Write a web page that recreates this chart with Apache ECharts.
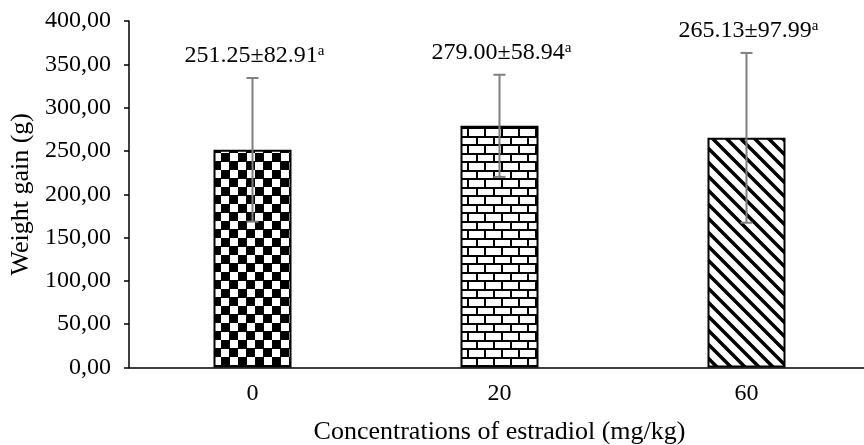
<!DOCTYPE html>
<html>
<head>
<meta charset="utf-8">
<script src="https://cdn.jsdelivr.net/npm/echarts@6/dist/echarts.min.js"></script>
<style>
  html, body { margin: 0; padding: 0; background: #fff; }
  #chart { width: 864px; height: 445px; }
</style>
</head>
<body>
<div id="chart"></div>
<script>
( () => {
    const categories = [ '0', '20', '60' ];
    const means = [ 251.25, 279.00, 265.13 ];
    const sds = [ 82.91, 58.94, 97.99 ];
    const letters = [ 'a', 'a', 'a' ];

    const FONT = '"Liberation Serif", "Times New Roman", serif';

    // fill patterns for the three bars
    function makeTile( w, h, draw ) {
        const c = document.createElement( 'canvas' );
        c.width = w;
        c.height = h;
        const ctx = c.getContext( '2d' );
        ctx.fillStyle = '#fff';
        ctx.fillRect( 0, 0, w, h );
        ctx.fillStyle = '#000';
        ctx.strokeStyle = '#000';
        draw( ctx );
        return c;
    }

    const checker = makeTile( 17, 17, ( ctx ) => {
        ctx.fillRect( 0, 0, 9, 9 );
        ctx.fillRect( 8, 8, 9, 9 );
    } );

    const brick = makeTile( 34, 17, ( ctx ) => {
        ctx.fillRect( 0, 0, 34, 2 );
        ctx.fillRect( 0, 8, 34, 2 );
        ctx.fillRect( 0, 0, 2, 8 );
        ctx.fillRect( 17, 0, 2, 8 );
        ctx.fillRect( 8, 8, 2, 9 );
        ctx.fillRect( 25, 8, 2, 9 );
    } );

    const stripes = makeTile( 14, 14, ( ctx ) => {
        ctx.lineWidth = 3.5;
        ctx.beginPath();
        ctx.moveTo( -7, -7 ); ctx.lineTo( 21, 21 );
        ctx.moveTo( -7, 7 ); ctx.lineTo( 7, 21 );
        ctx.moveTo( 7, -7 ); ctx.lineTo( 21, 7 );
        ctx.stroke();
    } );

    const patterns = [ checker, brick, stripes ];

    const chart = echarts.init( document.getElementById( 'chart' ), null, { renderer: 'canvas' } );

    const option = {
        animation: false,
        grid: {
            left: 129,
            top: 21,
            width: 741,
            bottom: 77.5,
            outerBoundsMode: 'none',
        },
        xAxis: {
            type: 'category',
            data: categories,
            name: 'Concentrations of estradiol (mg/kg)',
            nameLocation: 'middle',
            nameGap: 52,
            nameTextStyle: { fontFamily: FONT, fontSize: 26, color: '#000' },
            axisLine: { lineStyle: { color: '#000', width: 1.5 } },
            axisTick: { length: 6, lineStyle: { color: '#000', width: 1.5 } },
            axisLabel: { fontFamily: FONT, fontSize: 24, color: '#000', margin: 14 },
        },
        yAxis: {
            type: 'value',
            min: 0,
            max: 400,
            interval: 50,
            name: 'Weight gain (g)',
            nameLocation: 'middle',
            nameGap: 94,
            nameTextStyle: { fontFamily: FONT, fontSize: 26, color: '#000' },
            axisLine: { show: true, lineStyle: { color: '#000', width: 1.5 } },
            axisTick: { show: true, length: 5, lineStyle: { color: '#000', width: 1.5 } },
            splitLine: { show: false },
            axisLabel: {
                fontFamily: FONT,
                fontSize: 24,
                color: '#000',
                margin: 18,
                formatter: ( v ) => v.toFixed( 2 ).replace( '.', ',' ),
            },
        },
        series: [
            {
                type: 'bar',
                barWidth: 78,
                data: means.map( ( m, i ) => ( {
                    value: m,
                    itemStyle: {
                        color: { image: patterns[ i ], repeat: 'repeat' },
                        borderColor: '#000',
                        borderWidth: 2,
                    },
                } ) ),
            },
            {
                type: 'custom',
                z: 5,
                data: means.map( ( m, i ) => [ i, m, sds[ i ] ] ),
                renderItem: ( params, api ) => {
                    const i = api.value( 0 );
                    const m = api.value( 1 );
                    const sd = api.value( 2 );
                    const hi = api.coord( [ i, m + sd ] );
                    const lo = api.coord( [ i, m - sd ] );
                    const cap = 6;
                    const ls = { stroke: '#7f7f7f', lineWidth: 2 };
                    return {
                        type: 'group',
                        children: [
                            { type: 'line', shape: { x1: hi[ 0 ], y1: hi[ 1 ], x2: lo[ 0 ], y2: lo[ 1 ] }, style: ls },
                            { type: 'line', shape: { x1: hi[ 0 ] - cap, y1: hi[ 1 ], x2: hi[ 0 ] + cap, y2: hi[ 1 ] }, style: ls },
                            { type: 'line', shape: { x1: lo[ 0 ] - cap, y1: lo[ 1 ], x2: lo[ 0 ] + cap, y2: lo[ 1 ] }, style: ls },
                            {
                                type: 'text',
                                x: hi[ 0 ] + 2,
                                y: hi[ 1 ] - 10,
                                style: {
                                    text: '{v|' + m.toFixed( 2 ) + '±' + sd.toFixed( 2 ) + '}{s|' + letters[ params.dataIndex ] + '}',
                                    align: 'center',
                                    verticalAlign: 'bottom',
                                    rich: {
                                        v: { fontFamily: FONT, fontSize: 24, color: '#000', lineHeight: 24 },
                                        s: { fontFamily: FONT, fontSize: 15, color: '#000', lineHeight: 15, verticalAlign: 'top' },
                                    },
                                },
                            },
                        ],
                    };
                },
            },
        ],
    };

    chart.setOption( option );
} ) ();
</script>
</body>
</html>
